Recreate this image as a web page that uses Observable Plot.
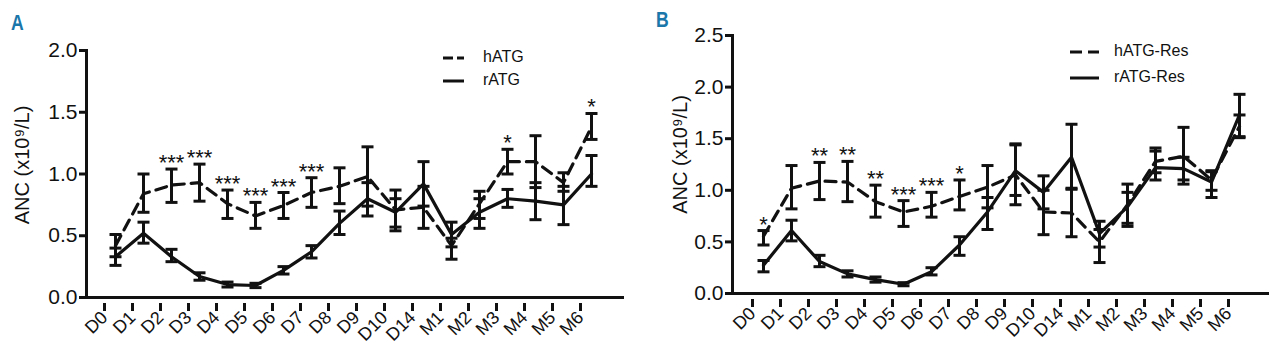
<!DOCTYPE html>
<html>
<head>
<meta charset="utf-8">
<script src="https://cdn.jsdelivr.net/npm/d3@7"></script>
<script src="https://cdn.jsdelivr.net/npm/@observablehq/plot@0.6"></script>
<style>
  html, body { margin: 0; padding: 0; background: #fff; }
  #wrap { position: relative; width: 1280px; height: 350px; overflow: hidden;
          font-family: "Liberation Sans", Arial, sans-serif; color: #111; }
  .panel { position: absolute; top: 0; }
  .plabel { position: absolute; font-weight: bold; font-size: 22px; color: #1b76aa; transform: scaleX(0.8); transform-origin: left top; }
  .legend { position: absolute; font-size: 16px; line-height: 1; }
  .legend .item { position: absolute; white-space: nowrap; }
</style>
</head>
<body>
<div id="wrap"></div>
<script>
// ---------- data ----------
const categories = ["D0","D1","D2","D3","D4","D5","D6","D7","D8","D9","D10","D14","M1","M2","M3","M4","M5","M6"];

// Panel A
const hATG_mean = [0.42,0.84,0.91,0.93,0.76,0.66,0.745,0.85,0.90,0.98,0.71,0.73,0.42,0.76,1.10,1.10,0.93,1.38];
const hATG_lo   = [0.33,0.69,0.77,0.78,0.64,0.56,0.64,0.73,0.76,0.74,0.54,0.56,0.31,0.64,1.00,0.89,0.86,1.28];
const hATG_hi   = [0.51,1.00,1.04,1.08,0.87,0.77,0.85,0.97,1.05,1.22,0.87,0.90,0.48,0.86,1.20,1.31,1.01,1.49];
const rATG_mean = [0.33,0.52,0.33,0.17,0.105,0.097,0.22,0.37,0.60,0.80,0.69,0.92,0.51,0.69,0.80,0.78,0.75,1.00];
const rATG_lo   = [0.26,0.44,0.29,0.14,0.085,0.08,0.19,0.32,0.51,0.66,0.57,0.74,0.41,0.56,0.73,0.63,0.59,0.90];
const rATG_hi   = [0.40,0.61,0.39,0.20,0.125,0.115,0.25,0.42,0.70,0.93,0.80,1.10,0.61,0.80,0.875,0.93,0.90,1.15];
const starsA    = ["","","***","***","***","***","***","***","","","","","","","*","","","*"];

// Panel B
const hRes_mean = [0.555,1.02,1.09,1.08,0.89,0.79,0.845,0.94,1.03,1.15,0.79,0.78,0.50,0.86,1.28,1.33,1.10,1.62];
const hRes_lo   = [0.47,0.82,0.91,0.89,0.74,0.65,0.74,0.81,0.83,0.86,0.57,0.55,0.30,0.65,1.17,1.06,1.00,1.51];
const hRes_hi   = [0.61,1.24,1.27,1.28,1.05,0.90,0.98,1.10,1.24,1.44,1.00,1.02,0.62,1.06,1.38,1.61,1.18,1.73];
const rRes_mean = [0.275,0.61,0.31,0.19,0.135,0.09,0.21,0.47,0.79,1.19,0.98,1.32,0.58,0.84,1.22,1.21,1.08,1.73];
const rRes_lo   = [0.21,0.51,0.26,0.16,0.11,0.075,0.18,0.37,0.62,0.95,0.82,1.01,0.45,0.68,1.10,1.10,0.93,1.52];
const rRes_hi   = [0.32,0.71,0.37,0.22,0.16,0.105,0.25,0.55,0.93,1.45,1.14,1.64,0.70,0.98,1.41,1.32,1.19,1.93];
const starsB    = ["*","","**","**","**","***","***","*","","","","","","","","","",""];

const yTicksA = [0, 0.5, 1.0, 1.5, 2.0];
const yTicksB = [0, 0.5, 1.0, 1.5, 2.0, 2.5];
const yLabel = "ANC (x10⁹/L)";
const legendA = ["hATG", "rATG"];
const legendB = ["hATG-Res", "rATG-Res"];

// ---------- drawing ----------
const FONT = '"Liberation Sans", Arial, sans-serif';
const INK = "#111";

// horizontal cap symbol for error bars
const capSymbol = {
  draw(context, size) {
    const w = Math.sqrt(size / Math.PI);
    context.moveTo(-w, 0);
    context.lineTo(w, 0);
  }
};

function rows(mean, lo, hi, stars) {
  return categories.map((c, i) => ({cat: c, mean: mean[i], lo: lo[i], hi: hi[i], star: stars ? stars[i] : ""}));
}

function panel(o) {
  const H = rows(o.hMean, o.hLo, o.hHi, o.stars);
  const R = rows(o.rMean, o.rLo, o.rHi);
  const both = H.concat(R);
  const capOpts = {x: "cat", symbol: capSymbol, r: 6, fill: "none", stroke: INK, strokeWidth: 3};
  return Plot.plot({
    width: 640, height: 350,
    marginLeft: o.ml, marginRight: o.mr, marginTop: o.mt, marginBottom: o.mb,
    style: {fontFamily: FONT, background: "white", color: INK, overflow: "visible"},
    x: {type: "point", domain: categories, range: o.xRange},
    y: {domain: [0, o.yMax]},
    marks: [
      Plot.frame({anchor: "left", stroke: INK, strokeWidth: 3}),
      Plot.frame({anchor: "bottom", stroke: INK, strokeWidth: 3}),
      Plot.axisY({ticks: o.yTicks, tickFormat: d3.format(".1f"), tickSize: 7, tickPadding: 2,
                  strokeWidth: 3, fontSize: 21, label: null}),
      Plot.text([yLabel], {frameAnchor: "left", text: d => d, rotate: -90, fontSize: 20,
                textAnchor: "middle", lineAnchor: "middle", dx: o.labDx, dy: o.labDy, fill: INK}),
      Plot.axisX({tickRotate: -45, tickSize: 8, tickPadding: 3, strokeWidth: 3, fontSize: 18,
                  dx: -11, dy: 6, label: null}),
      Plot.ruleX(both, {x: "cat", y1: "lo", y2: "hi", stroke: INK, strokeWidth: 3}),
      Plot.dot(both, {...capOpts, y: "lo"}),
      Plot.dot(both, {...capOpts, y: "hi"}),
      Plot.line(H, {x: "cat", y: "mean", stroke: INK, strokeWidth: 3.2, strokeDasharray: "11,7"}),
      Plot.line(R, {x: "cat", y: "mean", stroke: INK, strokeWidth: 3.2}),
      Plot.text(H.filter(d => d.star), {x: "cat", y: "hi", text: "star", fontSize: 22,
                lineAnchor: "bottom", dy: 1, fill: INK})
    ]
  });
}

const wrap = document.getElementById("wrap");

const pA = panel({hMean: hATG_mean, hLo: hATG_lo, hHi: hATG_hi, rMean: rATG_mean, rLo: rATG_lo, rHi: rATG_hi,
  stars: starsA, yMax: 2.0, yTicks: yTicksA, ml: 86, mr: 18, mt: 50, mb: 53, xRange: [100, 606],
  labDx: -63.5, labDy: -9});
pA.classList.add("panel"); pA.style.left = "0px";
wrap.appendChild(pA);

const pB = panel({hMean: hRes_mean, hLo: hRes_lo, hHi: hRes_hi, rMean: rRes_mean, rLo: rRes_lo, rHi: rRes_hi,
  stars: starsB, yMax: 2.5, yTicks: yTicksB, ml: 92, mr: 13, mt: 35, mb: 57, xRange: [108.3, 613.3],
  labDx: -52, labDy: -10});
pB.classList.add("panel"); pB.style.left = "640px";
wrap.appendChild(pB);

// panel letters
function addLabel(t, x, y) {
  const d = document.createElement("div");
  d.className = "plabel"; d.textContent = t;
  d.style.left = x + "px"; d.style.top = y + "px";
  wrap.appendChild(d);
}
addLabel("A", 11, 10);
addLabel("B", 656, 7);

// legends
function addLegend(names, x, y, lineW, gap, rowH, dash) {
  const d = document.createElement("div");
  d.className = "legend";
  d.style.left = x + "px"; d.style.top = y + "px";
  names.forEach((n, i) => {
    const it = document.createElement("div");
    it.className = "item";
    it.style.top = (i * rowH) + "px";
    it.innerHTML = `<svg width="${lineW}" height="20" style="position:absolute;left:0;top:-1px">
      <line x1="0" x2="${lineW}" y1="10" y2="10" stroke="${INK}" stroke-width="3" ${i === 0 ? `stroke-dasharray="${dash}"` : ""}/></svg>
      <span style="position:absolute;left:${lineW + gap}px;top:0">${n}</span>`;
    d.appendChild(it);
  });
  wrap.appendChild(d);
}
addLegend(legendA, 443, 49, 21, 19, 23, "10,4");
addLegend(legendB, 1070, 43, 29, 15, 26, "12,6");
</script>
</body>
</html>
